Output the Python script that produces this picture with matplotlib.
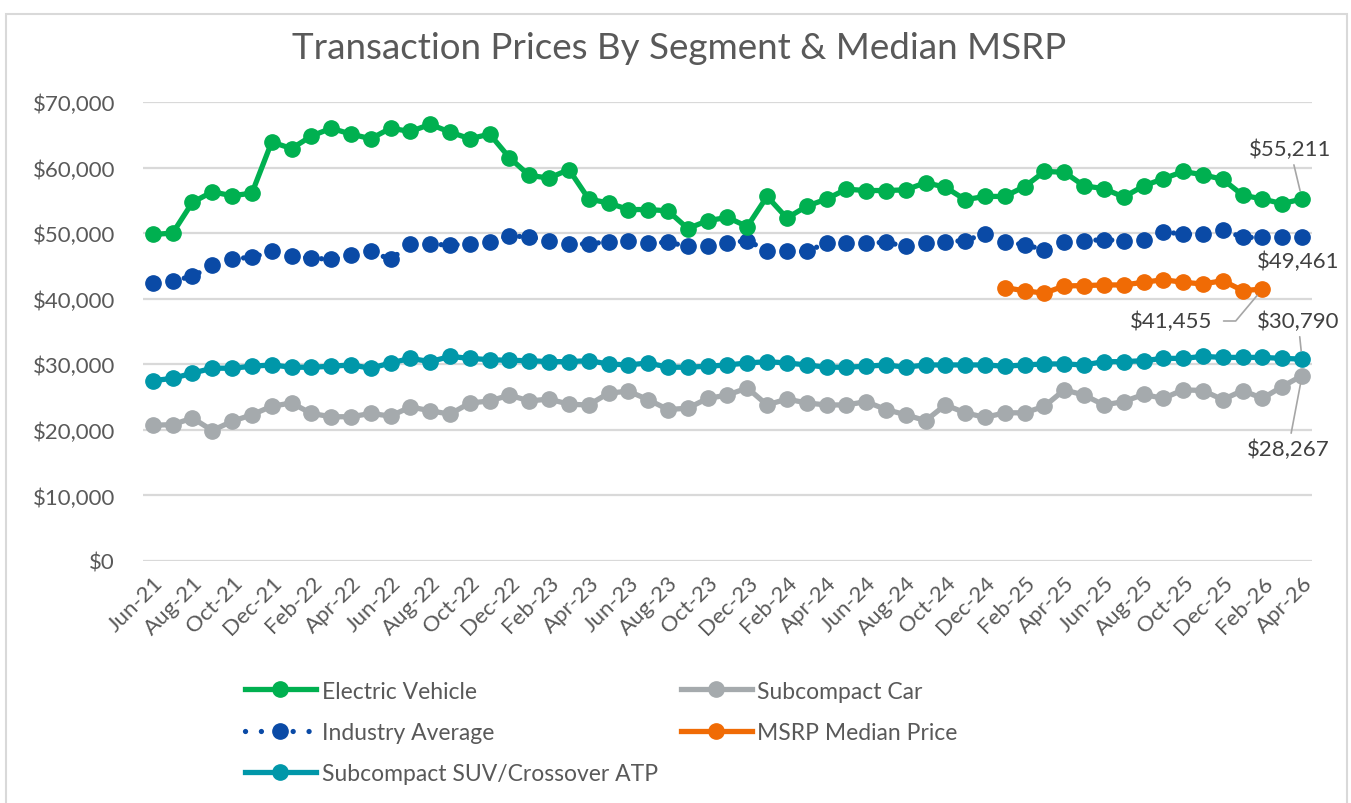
import numpy as np
import pandas as pd
import matplotlib
matplotlib.use("Agg")
import matplotlib.pyplot as plt
from matplotlib.patches import Rectangle

plt.rcParams['font.family'] = ['Lato', 'DejaVu Sans']

# monthly categories Jun-21 .. Apr-26
months = pd.date_range('2021-06-01', periods=59, freq='MS').strftime('%b-%y').tolist()

ev = [49800, 50000, 54700, 56300, 55700, 56100, 63900, 62900, 64800, 66000,
      65100, 64400, 66000, 65500, 66600, 65400, 64400, 65100, 61500, 58800,
      58400, 59700, 55200, 54600, 53600, 53600, 53400, 50700, 51900, 52400,
      51000, 55600, 52300, 54100, 55200, 56700, 56500, 56500, 56600, 57700,
      57000, 55100, 55600, 55600, 57100, 59400, 59300, 57200, 56800, 55500,
      57200, 58300, 59400, 58900, 58200, 55800, 55200, 54500, 55211]

industry = [42400, 42750, 43400, 45100, 46100, 46300, 47200, 46500, 46200, 46000,
            46600, 47200, 46000, 48300, 48300, 48200, 48300, 48700, 49600, 49400,
            48850, 48350, 48350, 48700, 48850, 48500, 48600, 48000, 48100, 48500,
            48850, 47350, 47200, 47200, 48500, 48500, 48500, 48600, 48000, 48500,
            48700, 48850, 49900, 48700, 48200, 47500, 48700, 48850, 49000, 48850,
            49000, 50200, 49850, 49850, 50500, 49350, 49350, 49350, 49461]

suv = [27500, 27850, 28650, 29400, 29400, 29700, 29900, 29550, 29550, 29700,
       29900, 29400, 30200, 30900, 30400, 31200, 30900, 30700, 30600, 30550,
       30400, 30400, 30550, 30050, 29900, 30200, 29550, 29550, 29700, 29900,
       30200, 30400, 30200, 29900, 29550, 29550, 29700, 29900, 29550, 29900,
       29900, 29900, 29900, 29700, 29900, 30050, 30050, 29900, 30400, 30400,
       30550, 30900, 30900, 31200, 31050, 31050, 31050, 30900, 30790]

subcompact = [20700, 20800, 21800, 19900, 21300, 22300, 23600, 24100, 22500, 22000,
              22000, 22500, 22100, 23500, 22900, 22400, 24100, 24400, 25300, 24400,
              24700, 23900, 23800, 25600, 25900, 24600, 23100, 23300, 24800, 25300,
              26400, 23800, 24700, 24100, 23800, 23800, 24300, 23100, 22300, 21400,
              23800, 22600, 21900, 22600, 22600, 23600, 26100, 25300, 23800, 24300,
              25400, 24800, 26100, 26000, 24600, 26000, 24800, 26600, 28267]

# MSRP median only available Jan-25 .. Feb-26
msrp = [np.nan] * 43 + [41700, 41200, 40850, 41950, 42000, 42100, 42100, 42500,
                        42900, 42500, 42250, 42750, 41250, 41455] + [np.nan] * 2

GREEN = '#00B050'
BLUE = '#0A4AA6'
GRAY = '#A5AAAD'
ORANGE = '#F06B05'
TEAL = '#0097A9'
TXT = '#595959'
FS = 16

fig = plt.figure(figsize=(13.51, 8.04), dpi=100)
ax = fig.add_axes([0.1058, 0.301, 0.8653, 0.5709])

x = np.arange(len(months))
lw = 3.8
ms = 11

ax.plot(x, ev, color=GREEN, lw=lw, marker='o', ms=ms, label='Electric Vehicle', zorder=4)
ax.plot(x, industry, color=BLUE, lw=lw, marker='o', ms=ms, linestyle=(0, (0.01, 3.0)),
        dash_capstyle='round', label='Industry Average', zorder=3)
ax.plot(x, suv, color=TEAL, lw=lw, marker='o', ms=ms,
        label='Subcompact SUV/Crossover ATP', zorder=3)
ax.plot(x, subcompact, color=GRAY, lw=lw, marker='o', ms=ms, label='Subcompact Car', zorder=3)
ax.plot(x, msrp, color=ORANGE, lw=lw, marker='o', ms=ms, label='MSRP Median Price', zorder=3)

ax.set_xlim(-0.5, len(months) - 0.5)
ax.set_ylim(0, 70000)
ax.set_yticks(np.arange(0, 70001, 10000))
ax.set_yticklabels([f'${v:,.0f}' for v in np.arange(0, 70001, 10000)])
ax.set_xticks(x[::2])
ax.set_xticklabels(months[::2], rotation=45, ha='right', rotation_mode='anchor')
ax.tick_params(axis='both', length=0, labelsize=FS, labelcolor=TXT)
ax.tick_params(axis='y', pad=20)
ax.tick_params(axis='x', pad=8)
ax.grid(axis='y', color='#D9D9D9', lw=1.6)
ax.set_axisbelow(True)
for s in ax.spines.values():
    s.set_visible(False)

fig.text(0.503, 0.94, 'Transaction Prices By Segment & Median MSRP',
         ha='center', va='center', fontsize=26.5, color=TXT)

# end-of-series value labels
lab_kw = dict(fontsize=16, color='#404040', ha='center', va='center',
              arrowprops=dict(arrowstyle='-', color='#A6A6A6', lw=1.2, shrinkA=2, shrinkB=6))
last = len(months) - 1
ax.annotate(f'${ev[-1]:,}', xy=(last, ev[-1]), xytext=(57.4, 62800), **lab_kw)
ax.annotate(f'${industry[-1]:,}', xy=(last, industry[-1]), xytext=(57.8, 45700),
            fontsize=16, color='#404040', ha='center', va='center')
ax.annotate(f'${msrp[56]:,}', xy=(56, msrp[56]), xytext=(51.4, 36600),
            fontsize=16, color='#404040', ha='center', va='center',
            arrowprops=dict(arrowstyle='-', color='#A6A6A6', lw=1.2, shrinkA=6, shrinkB=6,
                            connectionstyle='angle,angleA=0,angleB=50,rad=0'))
ax.annotate(f'${suv[-1]:,}', xy=(last, suv[-1]), xytext=(57.8, 36600), **lab_kw)
ax.annotate(f'${subcompact[-1]:,}', xy=(last, subcompact[-1]), xytext=(57.3, 17100), **lab_kw)

leg = fig.legend(loc='upper left', bbox_to_anchor=(0.166, 0.178), ncol=2, frameon=False,
                 fontsize=16.5, handlelength=3.1, handletextpad=0.25, labelspacing=0.88,
                 columnspacing=1.0, labelcolor=TXT)

# thin outer frame
fig.patches.append(Rectangle((0.0045, -0.01), 0.9925, 0.9913, transform=fig.transFigure,
                             fill=False, edgecolor='#D9D9D9', lw=1.5))

fig.savefig('out.png', dpi=100, facecolor='white')
